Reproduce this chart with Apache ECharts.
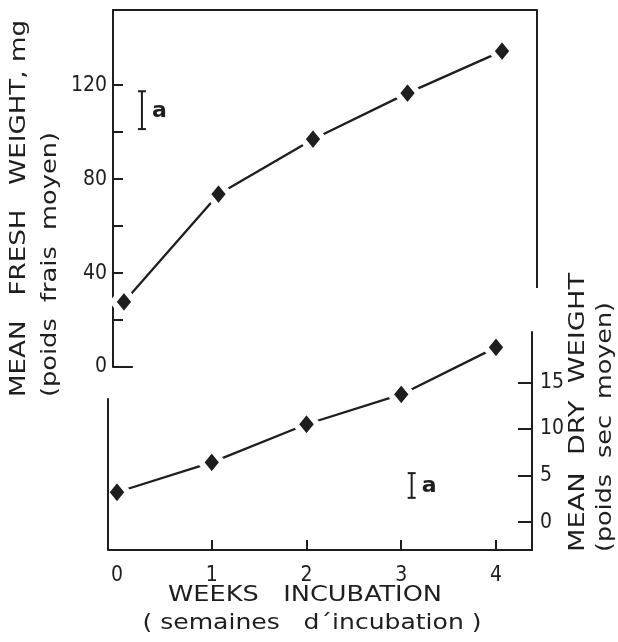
<!DOCTYPE html>
<html>
<head>
<meta charset="utf-8">
<script src="https://cdn.jsdelivr.net/npm/echarts@6/dist/echarts.min.js"></script>
<style>
html,body{margin:0;padding:0;background:#fff;}
#chart{width:618px;height:642px;}
</style>
</head>
<body>
<div id="chart"></div>
<script>
// ---- data ----
const weeks = [0, 1, 2, 3, 4];
const freshWeight = [27.7, 73.6, 97, 116.6, 134.5];   // mg
const dryWeight = [3.2, 6.4, 10.5, 13.7, 18.75];      // mg
const freshTickValues = [20, 40, 60, 80, 100, 120];
const freshLabelValues = [0, 40, 80, 120];
const dryTickValues = [0, 5, 10, 15];
const weekTickValues = [1, 2, 3, 4];
const weekLabelValues = [0, 1, 2, 3, 4];
const freshErrorBar = [[0.19, 101.3, 117.4]];
const dryErrorBar = [[3.11, 2.6, 5.25]];
const errorLabel = 'a';
const titles = {
  freshMain: 'MEAN   FRESH   WEIGHT, mg',
  freshSub: '(poids  frais  moyen)',
  dryMain: 'MEAN  DRY  WEIGHT',
  drySub: '(poids  sec  moyen)',
  xMain: 'WEEKS   INCUBATION',
  xSub: '( semaines   d\u00b4incubation )'
};

// ---- styling ----
const INK = '#1e1e1e';
const FONT = '"DejaVu Sans Condensed", "DejaVu Sans", sans-serif';
const mctx = document.createElement('canvas').getContext('2d');
function fit(text, size, target) {
  mctx.font = size + 'px ' + FONT;
  return target / mctx.measureText(text).width;
}
function titleText(text, x, y, size, target, rotated, align) {
  return {
    type: 'text', x: x, y: y,
    rotation: rotated ? Math.PI / 2 : 0,
    scaleX: fit(text, size, target),
    style: {
      text: text, fontSize: size, fontFamily: FONT, fill: INK,
      align: align || 'left', verticalAlign: 'middle'
    },
    silent: true
  };
}

const X0 = [-0.116, 4.37];
const X1 = [-0.095, 4.38];
const Y0 = [0, 152];
const Y1 = [-3, 20.4];

function errorBarRender(params, api) {
  const hi = api.coord([api.value(0), api.value(2)]);
  const lo = api.coord([api.value(0), api.value(1)]);
  const cap = 4;
  const st = { stroke: INK, lineWidth: 2 };
  return {
    type: 'group',
    children: [
      { type: 'line', shape: { x1: hi[0], y1: hi[1], x2: lo[0], y2: lo[1] }, style: st },
      { type: 'line', shape: { x1: hi[0] - cap, y1: hi[1], x2: hi[0] + cap, y2: hi[1] }, style: st },
      { type: 'line', shape: { x1: lo[0] - cap, y1: lo[1], x2: lo[0] + cap, y2: lo[1] }, style: st },
      { type: 'text', x: hi[0] + 10, y: (hi[1] + lo[1]) / 2 + 1,
        style: { text: errorLabel, fontSize: 22, fontWeight: 'bold', fontFamily: '"DejaVu Sans", sans-serif',
                 fill: INK, align: 'left', verticalAlign: 'middle' } }
    ]
  };
}

const lineStyleAxis = { color: INK, width: 2 };
const markLineBase = {
  symbol: 'none', silent: true, label: { show: false },
  lineStyle: { color: INK, width: 2, type: 'solid' },
  emphasis: { disabled: true }
};
const markerStyle = { color: INK, borderColor: '#fff', borderWidth: 6 };
const markerSize = [22, 27];

const chart = echarts.init(document.getElementById('chart'), null, { renderer: 'canvas' });
chart.setOption({
  animation: false,
  backgroundColor: '#fff',
  grid: [
    { left: 113, top: 10, width: 424, height: 357 },
    { left: 108, top: 332, width: 424, height: 218 }
  ],
  xAxis: [
    { gridIndex: 0, type: 'value', min: X0[0], max: X0[1], position: 'top',
      axisLine: { show: true, onZero: false, lineStyle: lineStyleAxis },
      axisTick: { show: false }, axisLabel: { show: false }, splitLine: { show: false } },
    { gridIndex: 1, type: 'value', min: X1[0], max: X1[1], position: 'bottom',
      axisLine: { show: true, onZero: false, lineStyle: lineStyleAxis },
      axisTick: { show: true, inside: true, length: 10, lineStyle: lineStyleAxis, customValues: weekTickValues },
      axisLabel: { show: true, customValues: weekLabelValues, margin: 15, fontSize: 21, fontFamily: FONT, color: INK },
      splitLine: { show: false } }
  ],
  yAxis: [
    { gridIndex: 0, type: 'value', min: Y0[0], max: Y0[1], position: 'left',
      axisLine: { show: true, onZero: false, lineStyle: lineStyleAxis },
      axisTick: { show: true, inside: true, length: 10, lineStyle: lineStyleAxis, customValues: freshTickValues },
      axisLabel: { show: true, customValues: freshLabelValues, margin: 6, fontSize: 21, fontFamily: FONT, color: INK },
      splitLine: { show: false } },
    { gridIndex: 1, type: 'value', min: Y1[0], max: Y1[1], position: 'right',
      axisLine: { show: true, onZero: false, lineStyle: lineStyleAxis },
      axisTick: { show: true, inside: true, length: 14, lineStyle: lineStyleAxis, customValues: dryTickValues },
      axisLabel: { show: true, customValues: dryTickValues, margin: 8, fontSize: 21, fontFamily: FONT, color: INK },
      splitLine: { show: false } }
  ],
  series: [
    { type: 'line', xAxisIndex: 0, yAxisIndex: 0, clip: false,
      data: weeks.map((w, i) => [w, freshWeight[i]]),
      symbol: 'diamond', symbolSize: markerSize,
      itemStyle: markerStyle,
      lineStyle: { color: INK, width: 2.3 },
      emphasis: { disabled: true },
      markLine: Object.assign({}, markLineBase, {
        data: [
          [{ coord: [X0[1], Y0[1]] }, { coord: [X0[1], 33.6] }],
          [{ coord: [X0[0], 0] }, { coord: [X0[0] + 0.21, 0] }]
        ]
      })
    },
    { type: 'line', xAxisIndex: 1, yAxisIndex: 1, clip: false,
      data: weeks.map((w, i) => [w, dryWeight[i]]),
      symbol: 'diamond', symbolSize: markerSize,
      itemStyle: markerStyle,
      lineStyle: { color: INK, width: 2.3 },
      emphasis: { disabled: true },
      markLine: Object.assign({}, markLineBase, {
        data: [
          [{ coord: [X1[0], Y1[0]] }, { coord: [X1[0], 13.3] }]
        ]
      })
    },
    { type: 'custom', xAxisIndex: 0, yAxisIndex: 0, data: freshErrorBar, renderItem: errorBarRender, silent: true, clip: false },
    { type: 'custom', xAxisIndex: 1, yAxisIndex: 1, data: dryErrorBar, renderItem: errorBarRender, silent: true, clip: false }
  ],
  graphic: [
    titleText(titles.freshMain, 19, 397, 22, 377, true),
    titleText(titles.freshSub, 51, 397, 21, 265, true),
    titleText(titles.dryMain, 578, 552, 22, 279, true),
    titleText(titles.drySub, 606, 552, 21, 250, true),
    titleText(titles.xMain, 305, 596, 21, 274, false, 'center'),
    titleText(titles.xSub, 312, 624, 21, 339, false, 'center')
  ]
});
</script>
</body>
</html>
